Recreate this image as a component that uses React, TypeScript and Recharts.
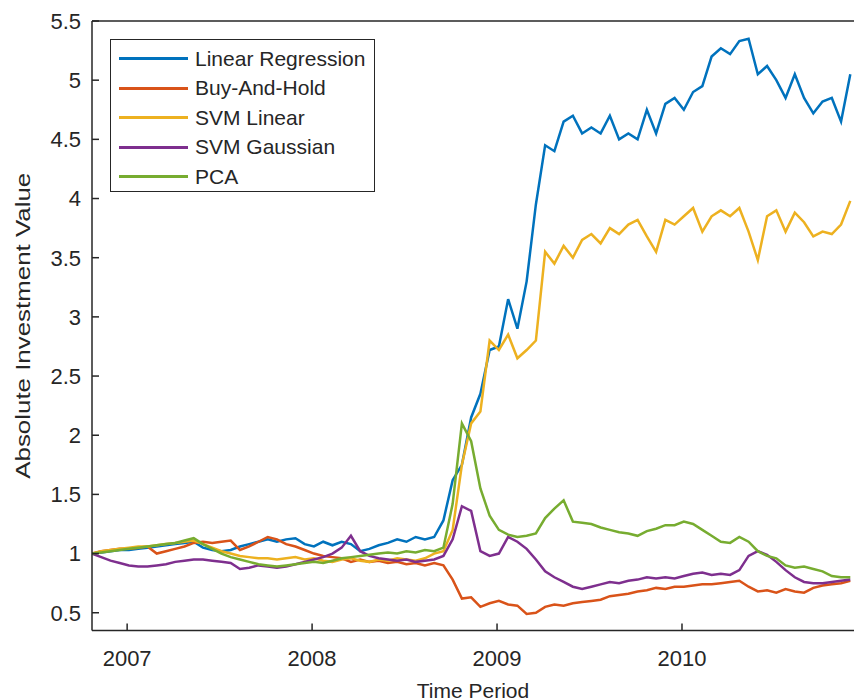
import { Legend, Line, LineChart, ReferenceLine, XAxis, YAxis } from "recharts";

// sample dates as fractional years (late 2006 .. late 2010)
const dates = [
  2006.81, 2006.86, 2006.91, 2006.96, 2007.01, 2007.06, 2007.11, 2007.16, 2007.21, 2007.26,
  2007.31, 2007.36, 2007.41, 2007.46, 2007.51, 2007.56, 2007.61, 2007.66, 2007.71, 2007.76,
  2007.81, 2007.86, 2007.91, 2007.96, 2008.01, 2008.06, 2008.11, 2008.16, 2008.21, 2008.26,
  2008.31, 2008.36, 2008.41, 2008.46, 2008.51, 2008.56, 2008.61, 2008.66, 2008.71, 2008.76,
  2008.81, 2008.86, 2008.91, 2008.96, 2009.01, 2009.06, 2009.11, 2009.16, 2009.21, 2009.26,
  2009.31, 2009.36, 2009.41, 2009.46, 2009.51, 2009.56, 2009.61, 2009.66, 2009.71, 2009.76,
  2009.81, 2009.86, 2009.91, 2009.96, 2010.01, 2010.06, 2010.11, 2010.16, 2010.21, 2010.26,
  2010.31, 2010.36, 2010.41, 2010.46, 2010.51, 2010.56, 2010.61, 2010.66, 2010.71, 2010.76,
  2010.81, 2010.86, 2010.91,
];

const linearRegression = [
  1.0, 1.01, 1.02, 1.03, 1.03, 1.04, 1.05, 1.06, 1.07, 1.08,
  1.09, 1.1, 1.05, 1.03, 1.02, 1.03, 1.06, 1.08, 1.1, 1.12,
  1.1, 1.12, 1.13, 1.08, 1.06, 1.1, 1.07, 1.1, 1.08, 1.02,
  1.04, 1.07, 1.09, 1.12, 1.1, 1.14, 1.12, 1.14, 1.28, 1.62,
  1.75, 2.15, 2.35, 2.72, 2.75, 3.15, 2.9, 3.3, 3.95, 4.45,
  4.4, 4.65, 4.7, 4.55, 4.6, 4.55, 4.7, 4.5, 4.55, 4.5,
  4.75, 4.55, 4.8, 4.85, 4.75, 4.9, 4.95, 5.2, 5.27, 5.22,
  5.33, 5.35, 5.05, 5.12, 5.0, 4.85, 5.05, 4.85, 4.72, 4.82,
  4.85, 4.65, 5.05,
];

const buyAndHold = [
  1.0, 1.02, 1.03, 1.04, 1.04, 1.05, 1.06, 1.0, 1.02, 1.04,
  1.06, 1.09, 1.1, 1.09, 1.1, 1.11, 1.03, 1.06, 1.1, 1.14,
  1.12, 1.08, 1.06, 1.03, 1.0, 0.98, 0.97, 0.96, 0.93, 0.95,
  0.93, 0.94, 0.92, 0.93, 0.91, 0.92, 0.9, 0.92, 0.9, 0.78,
  0.62, 0.63, 0.55, 0.58, 0.6, 0.57, 0.56, 0.49, 0.5, 0.55,
  0.57, 0.56, 0.58, 0.59, 0.6, 0.61, 0.64, 0.65, 0.66, 0.68,
  0.69, 0.71, 0.7, 0.72, 0.72, 0.73, 0.74, 0.74, 0.75, 0.76,
  0.77, 0.72, 0.68, 0.69, 0.67, 0.7, 0.68, 0.67, 0.71, 0.73,
  0.74, 0.75, 0.77,
];

const svmLinear = [
  1.0, 1.02, 1.03, 1.04, 1.05, 1.06, 1.06, 1.07, 1.08, 1.09,
  1.1, 1.11, 1.08, 1.05, 1.02, 1.0, 0.98, 0.97, 0.96, 0.96,
  0.95, 0.96, 0.97, 0.95, 0.96, 0.94, 0.93, 0.95, 0.96, 0.94,
  0.93, 0.95, 0.94, 0.96, 0.95, 0.94, 0.96, 1.0, 1.02, 1.2,
  1.75, 2.1, 2.2, 2.8, 2.72, 2.85, 2.65, 2.72, 2.8, 3.55,
  3.45, 3.6, 3.5, 3.65, 3.7, 3.62, 3.75, 3.7, 3.78, 3.82,
  3.68, 3.55, 3.82, 3.78, 3.85, 3.92, 3.72, 3.85, 3.9, 3.85,
  3.92, 3.72, 3.48, 3.85, 3.9, 3.72, 3.88, 3.8, 3.68, 3.72,
  3.7, 3.78, 3.98,
];

const svmGaussian = [
  1.0, 0.97, 0.94, 0.92, 0.9, 0.89, 0.89, 0.9, 0.91, 0.93,
  0.94, 0.95, 0.95, 0.94, 0.93, 0.92, 0.87, 0.88, 0.9, 0.89,
  0.88, 0.89, 0.91, 0.93, 0.95, 0.97, 1.0, 1.05, 1.15, 1.02,
  0.98, 0.96, 0.95, 0.94, 0.95, 0.93, 0.94, 0.95, 0.98, 1.12,
  1.4, 1.36, 1.02, 0.98, 1.0, 1.14, 1.1, 1.04, 0.95, 0.85,
  0.8, 0.76, 0.72, 0.7, 0.72, 0.74, 0.76, 0.75, 0.77, 0.78,
  0.8, 0.79, 0.8, 0.79, 0.81, 0.83, 0.84, 0.82, 0.83, 0.82,
  0.86, 0.98, 1.02, 0.99, 0.93, 0.86, 0.8, 0.76, 0.75, 0.75,
  0.76, 0.77, 0.78,
];

const pca = [
  1.0, 1.01, 1.02, 1.03, 1.04, 1.05, 1.06, 1.07, 1.08, 1.09,
  1.11, 1.13, 1.08, 1.04, 1.0, 0.97, 0.95, 0.93, 0.91, 0.9,
  0.89, 0.9, 0.91, 0.92, 0.93, 0.92, 0.94, 0.96, 0.97, 0.98,
  0.99, 1.0, 1.01, 1.0, 1.02, 1.01, 1.03, 1.02, 1.05, 1.42,
  2.1, 1.95, 1.55, 1.32, 1.2, 1.16, 1.14, 1.15, 1.17, 1.3,
  1.38, 1.45, 1.27, 1.26, 1.25, 1.22, 1.2, 1.18, 1.17, 1.15,
  1.19, 1.21, 1.24, 1.24, 1.27, 1.25, 1.2, 1.15, 1.1, 1.09,
  1.14, 1.1, 1.02, 0.98, 0.96, 0.9, 0.88, 0.89, 0.87, 0.85,
  0.81, 0.8, 0.8,
];

const yearTicks = [2007, 2008, 2009, 2010];
const valueTicks = [0.5, 1, 1.5, 2, 2.5, 3, 3.5, 4, 4.5, 5, 5.5];

const series = [
  { key: "lr", name: "Linear Regression", color: "#0072BD", values: linearRegression },
  { key: "bh", name: "Buy-And-Hold", color: "#D95319", values: buyAndHold },
  { key: "svmLin", name: "SVM Linear", color: "#EDB120", values: svmLinear },
  { key: "svmGauss", name: "SVM Gaussian", color: "#7E2F8E", values: svmGaussian },
  { key: "pca", name: "PCA", color: "#77AC30", values: pca },
];

const data = dates.map((t, i) => {
  const row: Record<string, number> = { t };
  series.forEach((s) => {
    row[s.key] = s.values[i];
  });
  return row;
});

const FONT = '"Liberation Sans", Arial, Helvetica, sans-serif';
const INK = "#262626";

function LegendBox() {
  return (
    <div
      style={{
        width: 265,
        height: 153,
        boxSizing: "border-box",
        border: `1px solid ${INK}`,
        background: "#fff",
        paddingTop: 4,
        fontFamily: FONT,
        fontSize: 21,
        color: INK,
      }}
    >
      {series.map((s) => (
        <div key={s.key} style={{ display: "flex", alignItems: "center", height: 29.5 }}>
          <div style={{ width: 69, height: 3, background: s.color, marginLeft: 8, marginRight: 7 }} />
          <span>{s.name}</span>
        </div>
      ))}
    </div>
  );
}

function YTitle(props: any) {
  const vb = props.viewBox || { x: 0, y: 21, width: 92, height: 609.5 };
  const cx = 22;
  const cy = vb.y + vb.height / 2;
  return (
    <text
      x={cx}
      y={cy}
      transform={`rotate(-90 ${cx} ${cy})`}
      textAnchor="middle"
      dominantBaseline="central"
      fill={INK}
      fontSize={21}
      fontFamily={FONT}
      textLength={306}
      lengthAdjust="spacingAndGlyphs"
    >
      Absolute Investment Value
    </text>
  );
}

function XTitle(props: any) {
  const vb = props.viewBox || { x: 92, y: 630.5, width: 762, height: 69.5 };
  return (
    <text
      x={vb.x + vb.width / 2}
      y={690}
      textAnchor="middle"
      dominantBaseline="central"
      fill={INK}
      fontSize={21}
      fontFamily={FONT}
    >
      Time Period
    </text>
  );
}

export default function App() {
  return (
    <div style={{ position: "absolute", left: 0, top: 0, width: 854, height: 700, background: "#fff" }}>
      <LineChart width={854} height={700} data={data} margin={{ top: 21, right: 0, bottom: 0, left: 0 }}>
        <XAxis
          dataKey="t"
          type="number"
          domain={[2006.81, 2010.93]}
          ticks={yearTicks}
          allowDataOverflow
          height={69.5}
          stroke={INK}
          strokeWidth={1.5}
          tickSize={-7}
          tickMargin={27}
          tick={{ fill: INK, fontSize: 22, fontFamily: FONT }}
          label={XTitle}
        />
        <YAxis
          type="number"
          domain={[0.35, 5.5]}
          ticks={valueTicks}
          allowDataOverflow
          width={92}
          stroke={INK}
          strokeWidth={1.5}
          tickSize={-7}
          tickMargin={18}
          tick={{ fill: INK, fontSize: 22, fontFamily: FONT }}
          label={YTitle}
        />
        <ReferenceLine y={5.5} stroke={INK} strokeWidth={1.5} />
        {series.map((s) => (
          <Line
            key={s.key}
            type="linear"
            dataKey={s.key}
            name={s.name}
            stroke={s.color}
            strokeWidth={2.5}
            dot={false}
            isAnimationActive={false}
          />
        ))}
        <Legend
          layout="vertical"
          align="center"
          verticalAlign="middle"
          content={LegendBox}
          wrapperStyle={{ position: "absolute", left: 110, top: 39, width: 265, height: 153 }}
        />
      </LineChart>
    </div>
  );
}
